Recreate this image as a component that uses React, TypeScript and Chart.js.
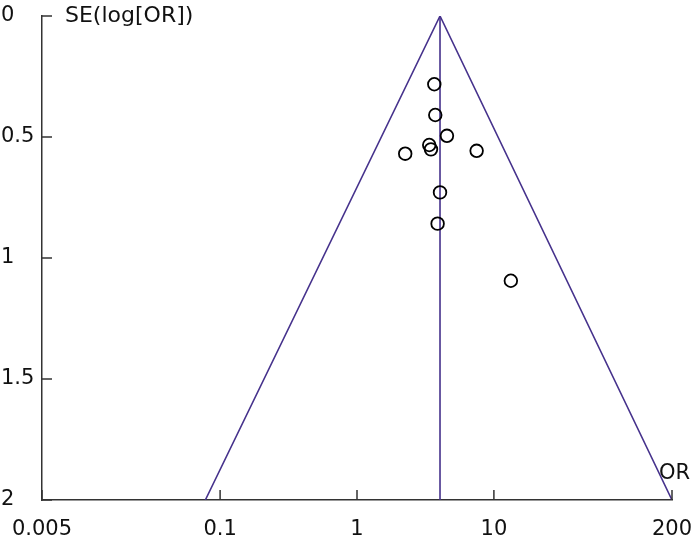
import React, { useEffect, useRef } from "react";
import { Chart, registerables } from "chart.js";

Chart.register(...registerables);

// Study estimates (odds ratio, standard error of log OR)
const studyOR = [3.67, 3.73, 4.54, 3.37, 3.47, 2.25, 7.48, 4.04, 3.88, 13.3];
const studySE = [0.282, 0.409, 0.495, 0.533, 0.551, 0.569, 0.557, 0.729, 0.858, 1.094];

// Pooled estimate and funnel limits
const pooledOR = 4.04;
const funnelOR = [0.078, 4.04, 200];
const funnelSE = [2, 0, 2];
const pooledLineSE = [0, 2];

// Axis ticks
const xTicks = [0.005, 0.1, 1, 10, 200];
const xTickLabels = ["0.005", "0.1", "1", "10", "200"];
const yTicks = [0, 0.5, 1, 1.5, 2];
const yTickLabels = ["0", "0.5", "1", "1.5", "2"];

const FONT = "'DejaVu Sans', sans-serif";
const FUNNEL = "#46328c";
const AXIS = "#333333";

export default function App() {
  const ref = useRef<HTMLCanvasElement | null>(null);

  useEffect(() => {
    if (!ref.current) return;
    const tickPlugin = {
      id: "inwardTicks",
      afterDraw(chart: any) {
        const ctx = chart.ctx;
        const xs = chart.scales.x;
        const ys = chart.scales.y;
        const area = chart.chartArea;
        ctx.save();
        ctx.strokeStyle = AXIS;
        ctx.lineWidth = 1.5;
        ctx.beginPath();
        yTicks.forEach((v) => {
          const py = ys.getPixelForValue(v);
          ctx.moveTo(area.left, py);
          ctx.lineTo(area.left + 10, py);
        });
        xTicks.forEach((v) => {
          const px = xs.getPixelForValue(v);
          ctx.moveTo(px, area.bottom);
          ctx.lineTo(px, area.bottom - 10);
        });
        ctx.stroke();
        ctx.fillStyle = "#111";
        ctx.textBaseline = "alphabetic";
        ctx.textAlign = "left";
        ctx.font = `22px ${FONT}`;
        ctx.fillText("SE(log[OR])", area.left + 23, area.top + 6);
        ctx.font = `21px ${FONT}`;
        ctx.fillText("OR", area.right - 13, area.bottom - 21);
        ctx.restore();
      },
    };

    const chart = new Chart(ref.current, {
      type: "scatter",
      data: {
        datasets: [
          {
            label: "studies",
            data: studyOR.map((x, i) => ({ x, y: studySE[i] })),
            pointRadius: 6.3,
            pointBorderWidth: 1.8,
            pointBorderColor: "#000",
            pointBackgroundColor: "rgba(0,0,0,0)",
            showLine: false,
            order: 0,
          },
          {
            label: "funnel",
            data: funnelOR.map((x, i) => ({ x, y: funnelSE[i] })),
            showLine: true,
            borderColor: FUNNEL,
            borderWidth: 1.6,
            pointRadius: 0,
            fill: false,
            order: 1,
          },
          {
            label: "pooled",
            data: pooledLineSE.map((y) => ({ x: pooledOR, y })),
            showLine: true,
            borderColor: FUNNEL,
            borderWidth: 1.6,
            pointRadius: 0,
            fill: false,
            order: 1,
          },
        ],
      },
      options: {
        responsive: false,
        animation: false,
        layout: { padding: { top: 16, right: 28, left: 1, bottom: 0 } },
        plugins: {
          legend: { display: false },
          tooltip: { enabled: false },
        },
        scales: {
          x: {
            type: "logarithmic",
            min: 0.005,
            max: 200,
            afterBuildTicks: (s: any) => {
              s.ticks = xTicks.map((v) => ({ value: v }));
            },
            afterFit: (s: any) => {
              s.height = 42;
              s.paddingLeft = 0;
              s.paddingRight = 0;
            },
            grid: { display: false, drawTicks: false },
            border: { display: true, color: AXIS, width: 1.5 },
            ticks: {
              autoSkip: false,
              maxRotation: 0,
              padding: 17,
              color: "#111",
              font: { family: FONT, size: 21 },
              callback: (v: any) => {
                const i = xTicks.indexOf(Number(v));
                return i >= 0 ? xTickLabels[i] : "";
              },
            },
          },
          y: {
            type: "linear",
            reverse: true,
            min: 0,
            max: 2,
            afterBuildTicks: (s: any) => {
              s.ticks = yTicks.map((v) => ({ value: v }));
            },
            afterFit: (s: any) => {
              s.width = 41;
              s.paddingTop = 0;
              s.paddingBottom = 0;
            },
            grid: { display: false, drawTicks: false },
            border: { display: true, color: AXIS, width: 1.5 },
            ticks: {
              crossAlign: "far",
              color: "#111",
              font: { family: FONT, size: 21 },
              callback: (v: any) => {
                const i = yTicks.indexOf(Number(v));
                return i >= 0 ? yTickLabels[i] : "";
              },
            },
          },
        },
      },
      plugins: [tickPlugin],
    });
    return () => chart.destroy();
  }, []);

  return (
    <div style={{ position: "absolute", left: 0, top: 0, width: 700, height: 542, background: "#fff" }}>
      <canvas ref={ref} width={700} height={542} />
    </div>
  );
}
